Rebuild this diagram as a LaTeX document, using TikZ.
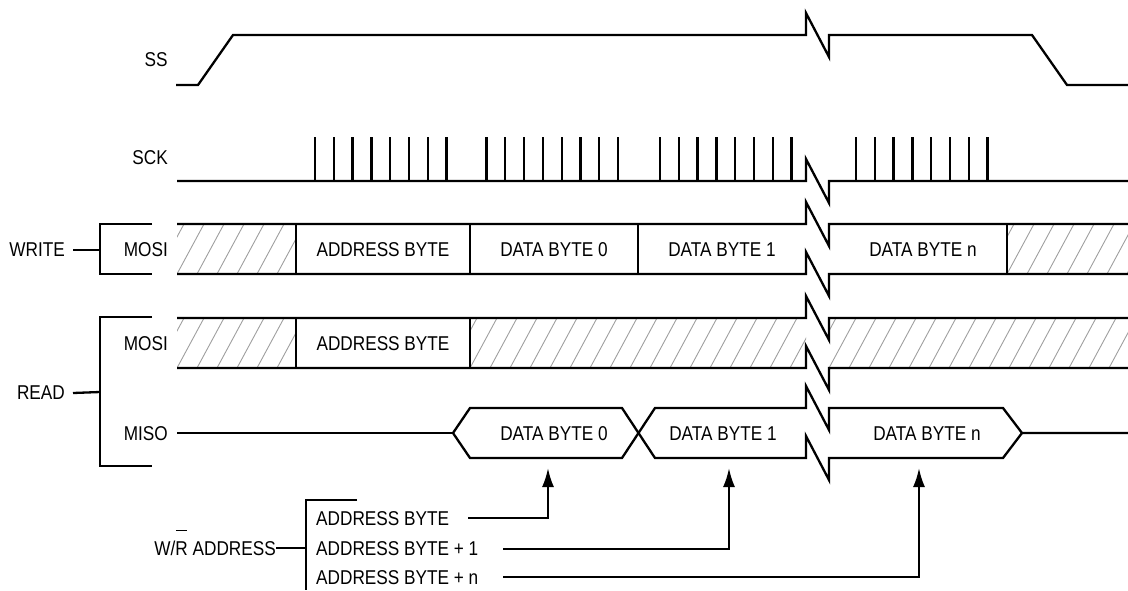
\documentclass[tikz,border=0pt]{standalone}
\usepackage{fontspec}
\setmainfont{Liberation Sans}
\newfontfamily\labfont[FakeStretch=0.86]{Liberation Sans}
\usetikzlibrary{arrows.meta}
\tikzset{
  sig/.style={line width=2.3pt, line join=miter},
  hatchline/.style={gray!75, line width=0.9pt},
  lab/.style={font=\labfont\fontsize{20}{23}\selectfont, inner sep=0pt},
  arr/.style={sig, -{Latex[length=19pt,width=12pt]}}
}
\begin{document}
\begin{tikzpicture}[x=1pt,y=-1pt]
\useasboundingbox (0,0) rectangle (1128,590);
% hatched regions
\foreach \xa/\xb/\ya/\yb in {177/296/224/274, 1007/1128/224/274, 177/296/318/368, 470/806/318/368, 829/1128/318/368}{
  \begin{scope}
    \clip (\xa,\ya) rectangle (\xb,\yb);
    \foreach \k in {-40,-20,...,400}{
      \draw[hatchline] ({\xa+\k},\yb) -- ({\xa+\k+27},\ya);
    }
  \end{scope}
}
% labels
\node[lab, anchor=center] (ss) at (156,60) {SS};
\node[lab, anchor=east] (sck) at (168,158) {SCK};
\node[lab, anchor=east] (wmosi) at (168,250) {MOSI};
\node[lab, anchor=east] (rmosi) at (168,344) {MOSI};
\node[lab, anchor=east] (miso) at (168,434) {MISO};
\node[lab, anchor=east] (write) at (65,250) {WRITE};
\node[lab, anchor=east] (read) at (65,393) {READ};
\node[lab, anchor=east] (wr) at (276,548) {W/\rlap{\hspace{0.5pt}\smash{\raisebox{24pt}{\rule{11pt}{1pt}}}}R ADDRESS};
% box texts
\node[lab] (wab) at (383,250) {ADDRESS BYTE};
\node[lab] (wd0) at (554,250) {DATA BYTE 0};
\node[lab] (wd1) at (722,250) {DATA BYTE 1};
\node[lab] (wdn) at (923,250) {DATA BYTE n};
\node[lab] (rab) at (383,344) {ADDRESS BYTE};
\node[lab] (md0) at (554,434) {DATA BYTE 0};
\node[lab] (md1) at (723,434) {DATA BYTE 1};
\node[lab] (mdn) at (927,434) {DATA BYTE n};
\node[lab, anchor=west] (a0) at (316,519) {ADDRESS BYTE};
\node[lab, anchor=west] (a1) at (316,549) {ADDRESS BYTE + 1};
\node[lab, anchor=west] (an) at (316,578) {ADDRESS BYTE + n};
% SS
\draw[sig] (176,85) -- (198,85) -- (233,35) -- (806,35) -- ++(0,-22) -- ++(23,44) -- ++(0,-22) -- (1032,35) -- (1067,85) -- (1128,85);
% SCK
\draw[sig] (177,181) -- (806,181) -- ++(0,-22) -- ++(23,44) -- ++(0,-22) -- (1128,181);
\foreach \s in {315,486.5,660,856}{
  \foreach \i in {0,...,7}{
    \draw[sig] ({\s+\i*18.8},181) -- ++(0,-44);
  }
}
% WRITE MOSI bus
\draw[sig] (177,224) -- (806,224) -- ++(0,-22) -- ++(23,44) -- ++(0,-22) -- (1128,224);
\draw[sig] (177,274) -- (806,274) -- ++(0,-22) -- ++(23,44) -- ++(0,-22) -- (1128,274);
\foreach \x in {296,470,638,1007}{ \draw[sig] (\x,224) -- (\x,274); }
% READ MOSI bus
\draw[sig] (177,318) -- (806,318) -- ++(0,-22) -- ++(23,44) -- ++(0,-22) -- (1128,318);
\draw[sig] (177,368) -- (806,368) -- ++(0,-22) -- ++(23,44) -- ++(0,-22) -- (1128,368);
\foreach \x in {296,470}{ \draw[sig] (\x,318) -- (\x,368); }
% MISO
\draw[sig] (177,433) -- (453,433);
\draw[sig] (453,433) -- (470,408) -- (622,408) -- (655,458) -- (806,458) -- ++(0,-22) -- ++(23,44) -- ++(0,-22) -- (1003,458) -- (1022,433) -- (1128,433);
\draw[sig] (453,433) -- (470,458) -- (622,458) -- (655,408) -- (806,408) -- ++(0,-22) -- ++(23,44) -- ++(0,-22) -- (1003,408) -- (1022,433);
% brackets
\coordinate (wbr) at (100,250);
\coordinate (rbr) at (100,392);
\coordinate (abr) at (306,548);
\draw[sig] (152,224) -- (100,224) -- (100,274) -- (152,274);
\draw[sig] ([xshift=8pt]write.east) -- (wbr);
\draw[sig] (152,317) -- (100,317) -- (100,466) -- (152,466);
\draw[sig] ([xshift=8pt]read.east) -- (rbr);
\draw[sig] (357,500) -- (306,500) -- (306,590);
\draw[sig] (wr.east) -- (abr);
% address arrows
\coordinate (s0) at (468,518);
\coordinate (s1) at (503,549);
\coordinate (sn) at (503,577);
\coordinate (t0) at (548,468);
\coordinate (t1) at (729,468);
\coordinate (tn) at (919,468);
\draw[arr] (s0) -| (t0);
\draw[arr] (s1) -| (t1);
\draw[arr] (sn) -| (tn);
\end{tikzpicture}
\end{document}
